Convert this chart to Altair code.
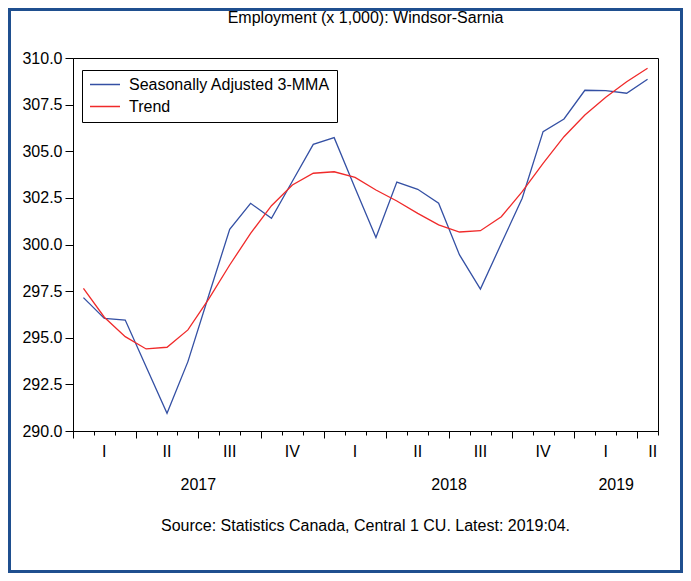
import altair as alt
import pandas as pd

# ---- data ----
months = [
    "2017-01", "2017-02", "2017-03", "2017-04", "2017-05", "2017-06",
    "2017-07", "2017-08", "2017-09", "2017-10", "2017-11", "2017-12",
    "2018-01", "2018-02", "2018-03", "2018-04", "2018-05", "2018-06",
    "2018-07", "2018-08", "2018-09", "2018-10", "2018-11", "2018-12",
    "2019-01", "2019-02", "2019-03", "2019-04",
]
sa_3mma = [
    297.15, 296.04, 295.95, 293.45, 290.95, 293.72,
    297.28, 300.81, 302.21, 301.40, 303.39, 305.37,
    305.73, 303.03, 300.38, 303.35, 302.96, 302.21,
    299.44, 297.61, 300.05, 302.48, 306.05, 306.73,
    308.27, 308.25, 308.11, 308.86,
]
trend = [
    297.65, 296.10, 295.06, 294.40, 294.49, 295.42,
    297.08, 298.90, 300.60, 302.08, 303.19, 303.82,
    303.90, 303.60, 302.92, 302.33, 301.67, 301.05,
    300.67, 300.74, 301.49, 302.83, 304.35, 305.78,
    306.94, 307.89, 308.73, 309.45,
]
series_names = ["Seasonally Adjusted 3-MMA", "Trend"]
series_colors = ["#3450a4", "#f02a2a"]

quarter_labels = ["I", "II", "III", "IV", "I", "II", "III", "IV", "I", "II"]
quarter_pos = [1.5, 4.5, 7.5, 10.5, 13.5, 16.5, 19.5, 22.5, 25.5, 27.75]
quarter_bounds = [0, 3, 6, 9, 12, 15, 18, 21, 24, 27]
month_bounds = list(range(29))
year_labels = ["2017", "2018", "2019"]
year_pos = [6, 18, 26]
y_ticks = [290.0, 292.5, 295.0, 297.5, 300.0, 302.5, 305.0, 307.5, 310.0]

title_text = "Employment (x 1,000): Windsor-Sarnia"
source_text = "Source: Statistics Canada, Central 1 CU. Latest: 2019:04."

FONT = "Liberation Sans, Arial, sans-serif"
PW, PH = 585, 373
PAD = {"left": 65, "top": 50, "right": 25, "bottom": 142}   # total 675 x 565

rows = []
for i, m in enumerate(months):
    rows.append({"month": m, "pos": i + 0.5, "series": series_names[0], "value": sa_3mma[i]})
    rows.append({"month": m, "pos": i + 0.5, "series": series_names[1], "value": trend[i]})
df = pd.DataFrame(rows)

xscale = alt.Scale(domain=[0, 28], nice=False, zero=False)
yscale = alt.Scale(domain=[290, 310], nice=False, zero=False)

lines = alt.Chart(df).mark_line(strokeWidth=1.3).encode(
    x=alt.X(
        "pos:Q", scale=xscale,
        axis=alt.Axis(
            values=quarter_bounds, labels=False, title=None, grid=False, orient="bottom",
            tickSize=7, tickColor="black", tickWidth=1,
            domainColor="black", domainWidth=1,
        ),
    ),
    y=alt.Y(
        "value:Q", scale=yscale,
        axis=alt.Axis(
            values=y_ticks, format=".1f", title=None, grid=False, tickSize=8,
            labelPadding=3, labelFont=FONT, labelFontSize=16, labelColor="black",
            tickColor="black", domainColor="black",
        ),
    ),
    color=alt.Color(
        "series:N",
        scale=alt.Scale(domain=series_names, range=series_colors),
        legend=alt.Legend(
            orient="none", legendX=9, legendY=12, title=None,
            strokeColor="black", fillColor="white", padding=7,
            labelFont=FONT, labelFontSize=16, labelColor="black", labelLimit=0,
            symbolType="stroke", symbolSize=900, symbolStrokeWidth=1.3,
            symbolOpacity=1, clipHeight=15, rowPadding=5, labelOffset=8,
        ),
    ),
    detail="series:N",
    order="pos:Q",
)

minor = alt.Chart(pd.DataFrame({"pos": month_bounds})).mark_point(opacity=0).encode(
    x=alt.X(
        "pos:Q", scale=xscale,
        axis=alt.Axis(
            values=month_bounds, labels=False, title=None, grid=False, orient="bottom",
            tickSize=4, tickColor="black", tickWidth=1, domain=False,
        ),
    ),
    y=alt.value(0),
)

qdf = pd.DataFrame({"pos": quarter_pos, "label": quarter_labels})
qtext = alt.Chart(qdf).mark_text(font=FONT, fontSize=16, baseline="middle", color="black").encode(
    x=alt.X("pos:Q", scale=xscale, axis=None),
    y=alt.value(PH + 21),
    text="label:N",
)

ydf = pd.DataFrame({"pos": year_pos, "label": year_labels})
ytext = alt.Chart(ydf).mark_text(font=FONT, fontSize=16, baseline="middle", color="black").encode(
    x=alt.X("pos:Q", scale=xscale, axis=None),
    y=alt.value(PH + 54),
    text="label:N",
)

one = pd.DataFrame({"t": [title_text], "s": [source_text]})
title = alt.Chart(one).mark_text(font=FONT, fontSize=16, baseline="middle", color="black").encode(
    x=alt.value(PW / 2), y=alt.value(-40), text="t:N"
)
source = alt.Chart(one).mark_text(font=FONT, fontSize=16, baseline="middle", color="black").encode(
    x=alt.value(PW / 2), y=alt.value(PH + 95), text="s:N"
)
border = alt.Chart(one).mark_rect(filled=False, stroke="#1f4f8f", strokeWidth=3).encode(
    x=alt.value(-63.5), x2=alt.value(PW + 23.5),
    y=alt.value(-48.5), y2=alt.value(PH + 140.5),
)

chart = alt.layer(border, minor, lines, qtext, ytext, title, source).resolve_axis(
    x="independent"
).properties(
    width=PW, height=PH,
    autosize=alt.AutoSizeParams(type="none"),
    padding=PAD,
    background="white",
).configure_view(stroke="black", strokeWidth=1)

chart.save("out.html", embed_options={"renderer": "svg", "actions": False})
